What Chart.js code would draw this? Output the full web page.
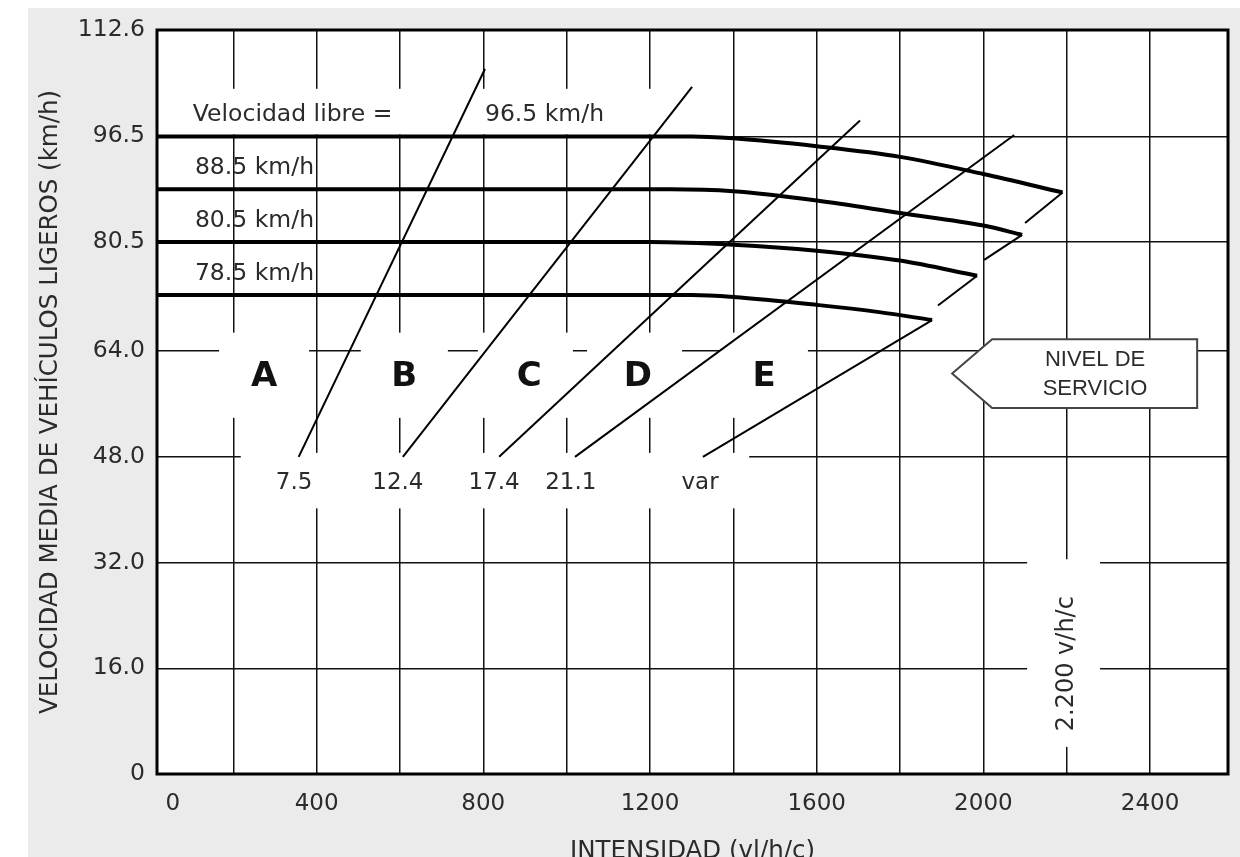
<!DOCTYPE html>
<html lang="es">
<head>
<meta charset="UTF-8">
<meta name="viewport" content="width=device-width, initial-scale=1.0">
<title>Velocidad media vs intensidad</title>
<script src="https://cdn.jsdelivr.net/npm/chart.js"></script>
<style>
    html, body { margin: 0; padding: 0; background: #ffffff; }
    canvas { display: block; }
</style>
</head>
<body>
<canvas id="speedChart" width="1240" height="857"></canvas>
<script>
    // axes
    const xMin = 17, xMax = 2587;
    const xTickValues = [200, 400, 600, 800, 1000, 1200, 1400, 1600, 1800, 2000, 2200, 2400];
    const xTickLabels = ['', '400', '', '800', '', '1200', '', '1600', '', '2000', '', '2400'];
    const xZeroLabelFlow = 55;   // the "0" label sits a bit right of the true origin in the figure
    const yTickValues = [0, 16, 32, 48, 64, 80.5, 96.5, 112.6];
    const yTickLabels = ['0', '16.0', '32.0', '48.0', '64.0', '80.5', '96.5', '112.6'];

    // free-flow speed curves (intensidad vl/h/c -> velocidad km/h)
    const ffs965Flow  = [17, 1300, 1400, 1600, 1800, 2000, 2190];
    const ffs965Speed = [96.5, 96.5, 96.2, 95.0, 93.4, 90.8, 88.0];
    const ffs885Flow  = [17, 1250, 1400, 1600, 1800, 2000, 2093];
    const ffs885Speed = [88.5, 88.5, 88.2, 86.8, 84.9, 83.0, 81.6];
    const ffs805Flow  = [17, 1200, 1400, 1600, 1800, 1985];
    const ffs805Speed = [80.5, 80.5, 80.1, 79.2, 77.7, 75.4];
    const ffs725Flow  = [17, 1300, 1400, 1600, 1750, 1877];
    const ffs725Speed = [72.5, 72.5, 72.2, 71.0, 69.9, 68.7];

    // density boundaries between levels of service (start / end points)
    const densityLabels = ['7.5', '12.4', '17.4', '21.1', 'var'];
    const densityFlow  = [[357, 804], [607, 1301], [838, 1704], [1020, 2074]];
    const densitySpeed = [[48, 106.7], [48, 104.0], [48, 98.9], [48, 96.7]];

    // capacity boundary (E), drawn as broken pieces
    const capacityFlow  = [[1327, 1877], [1891, 1985], [2002, 2093], [2100, 2190]];
    const capacitySpeed = [[48, 68.7], [70.9, 75.4], [77.8, 81.6], [83.4, 88.0]];

    const losLetters = ['A', 'B', 'C', 'D', 'E'];

    const FONT = '"DejaVu Sans", Verdana, sans-serif';
    const INK = '#2b2b2b';

    function toPoints(flows, speeds) {
        return flows.map((q, i) => ({x: q, y: speeds[i]}));
    }

    function curve(flows, speeds) {
        return {
            data: toPoints(flows, speeds),
            borderColor: '#000',
            borderWidth: 4,
            cubicInterpolationMode: 'monotone',
            pointRadius: 0,
            fill: false
        };
    }

    function straight(flows, speeds) {
        return {
            data: toPoints(flows, speeds),
            borderColor: '#000',
            borderWidth: 2,
            tension: 0,
            pointRadius: 0,
            fill: false
        };
    }

    const datasets = [
        curve(ffs965Flow, ffs965Speed),
        curve(ffs885Flow, ffs885Speed),
        curve(ffs805Flow, ffs805Speed),
        curve(ffs725Flow, ffs725Speed)
    ];
    densityFlow.forEach((f, i) => datasets.push(straight(f, densitySpeed[i])));
    capacityFlow.forEach((f, i) => datasets.push(straight(f, capacitySpeed[i])));

    function whiteBox(chart, q0, q1, v0, v1) {
        const {ctx, scales: {x, y}} = chart;
        const l = x.getPixelForValue(q0), r = x.getPixelForValue(q1);
        const t = y.getPixelForValue(v1), b = y.getPixelForValue(v0);
        ctx.fillStyle = '#fff';
        ctx.fillRect(l, t, r - l, b - t);
    }

    const figurePlugin = {
        id: 'figure',
        beforeDraw(chart) {
            const {ctx, chartArea: a} = chart;
            ctx.save();
            ctx.fillStyle = '#fff';
            ctx.fillRect(0, 0, chart.width, chart.height);
            ctx.fillStyle = '#ebebeb';
            ctx.fillRect(28, 8, chart.width - 28, chart.height - 8);
            ctx.fillStyle = '#fff';
            ctx.fillRect(a.left, a.top, a.width, a.height);
            ctx.restore();
        },
        beforeDatasetsDraw(chart) {
            const {ctx, scales: {x, y}} = chart;
            ctx.save();
            // gaps in the grid behind the labels
            whiteBox(chart, 24, 1320, 96.8, 103.7);
            [[166, 382], [506, 715], [787, 1015], [1049, 1277], [1368, 1579]]
                .forEach(r => whiteBox(chart, r[0], r[1], 53.9, 66.8));
            whiteBox(chart, 218, 1438, 40.2, 48.6);
            whiteBox(chart, 2105, 2280, 4.1, 32.5);

            // "NIVEL DE SERVICIO" arrow box
            ctx.beginPath();
            ctx.moveTo(x.getPixelForValue(1925), y.getPixelForValue(60.6));
            ctx.lineTo(x.getPixelForValue(2021), y.getPixelForValue(65.8));
            ctx.lineTo(x.getPixelForValue(2513), y.getPixelForValue(65.8));
            ctx.lineTo(x.getPixelForValue(2513), y.getPixelForValue(55.4));
            ctx.lineTo(x.getPixelForValue(2021), y.getPixelForValue(55.4));
            ctx.closePath();
            ctx.fillStyle = '#fff';
            ctx.fill();
            ctx.strokeStyle = '#444';
            ctx.lineWidth = 2;
            ctx.stroke();
            ctx.fillStyle = INK;
            ctx.font = '22px "Liberation Sans", Arial, sans-serif';
            ctx.textAlign = 'center';
            ctx.textBaseline = 'middle';
            ctx.fillText('NIVEL DE', x.getPixelForValue(2268), y.getPixelForValue(62.6));
            ctx.fillText('SERVICIO', x.getPixelForValue(2268), y.getPixelForValue(58.3));
            ctx.restore();
        },
        afterDatasetsDraw(chart) {
            const {ctx, chartArea: a, scales: {x, y}} = chart;
            ctx.save();
            ctx.fillStyle = INK;
            ctx.textBaseline = 'middle';

            // free-flow speed labels, lifted above their curves
            ctx.font = '23.5px ' + FONT;
            ctx.textAlign = 'left';
            [['Velocidad libre =', 103, 96.5], ['96.5 km/h', 804, 96.5], ['88.5 km/h', 108, 88.5],
             ['80.5 km/h', 108, 80.5], ['78.5 km/h', 108, 72.5]].forEach(([txt, q, v]) => {
                ctx.fillText(txt, x.getPixelForValue(q), y.getPixelForValue(v) - 21);
            });

            // level-of-service letters
            ctx.font = 'bold 34px ' + FONT;
            ctx.textAlign = 'center';
            ctx.fillStyle = '#111';
            [274, 610, 910, 1171, 1474].forEach((q, i) => {
                ctx.fillText(losLetters[i], x.getPixelForValue(q), y.getPixelForValue(60.1));
            });

            // density values
            ctx.font = '23px ' + FONT;
            ctx.fillStyle = INK;
            [346, 595, 826, 1010, 1320].forEach((q, i) => {
                ctx.fillText(densityLabels[i], x.getPixelForValue(q), y.getPixelForValue(44.0));
            });

            // capacity note on the 2200 grid line
            ctx.save();
            ctx.translate(x.getPixelForValue(2201), y.getPixelForValue(16.7));
            ctx.rotate(-Math.PI / 2);
            ctx.font = '24px ' + FONT;
            ctx.fillText('2.200 v/h/c', 0, 0);
            ctx.restore();

            // plot frame
            ctx.strokeStyle = '#000';
            ctx.lineWidth = 3;
            ctx.strokeRect(a.left, a.top, a.width, a.height);
            ctx.restore();
        },
        afterDraw(chart) {
            const {ctx, chartArea: a} = chart;
            ctx.save();
            ctx.fillStyle = INK;
            ctx.font = '24.5px ' + FONT;
            ctx.textAlign = 'center';
            ctx.textBaseline = 'alphabetic';
            ctx.fillText('INTENSIDAD (vl/h/c)', (a.left + a.right) / 2, 858);
            ctx.translate(57, (a.top + a.bottom) / 2);
            ctx.rotate(-Math.PI / 2);
            ctx.fillText('VELOCIDAD MEDIA DE VEHÍCULOS LIGEROS (km/h)', 0, 0);
            ctx.restore();
        }
    };

    const gridColor = '#111';

    new Chart(document.getElementById('speedChart').getContext('2d'), {
        type: 'line',
        data: { datasets },
        options: {
            responsive: false,
            animation: false,
            devicePixelRatio: 1,
            layout: { padding: { top: 30, right: 12, bottom: 0, left: 0 } },
            plugins: {
                legend: { display: false },
                tooltip: { enabled: false }
            },
            scales: {
                x: {
                    type: 'linear',
                    min: xMin,
                    max: xMax,
                    afterBuildTicks: (scale) => {
                        scale.ticks = [{value: xZeroLabelFlow}].concat(xTickValues.map(v => ({value: v})));
                    },
                    afterFit: (scale) => { scale.height = 83; },
                    border: { display: false },
                    grid: {
                        drawTicks: false,
                        lineWidth: 1.5,
                        color: (c) => (c.tick && c.tick.value === xZeroLabelFlow) ? 'rgba(0,0,0,0)' : gridColor
                    },
                    ticks: {
                        autoSkip: false,
                        maxRotation: 0,
                        padding: 16,
                        color: INK,
                        font: { family: FONT, size: 23 },
                        callback: (value, index) => index === 0 ? '0' : xTickLabels[index - 1]
                    }
                },
                y: {
                    min: 0,
                    max: 112.6,
                    afterBuildTicks: (scale) => {
                        scale.ticks = yTickValues.map(v => ({value: v}));
                    },
                    afterFit: (scale) => { scale.width = 157; },
                    border: { display: false },
                    grid: { drawTicks: false, lineWidth: 1.5, color: gridColor },
                    ticks: {
                        autoSkip: false,
                        padding: 12,
                        color: INK,
                        font: { family: FONT, size: 23.5 },
                        callback: (value, index) => yTickLabels[index]
                    }
                }
            }
        },
        plugins: [figurePlugin]
    });
</script>
</body>
</html>
